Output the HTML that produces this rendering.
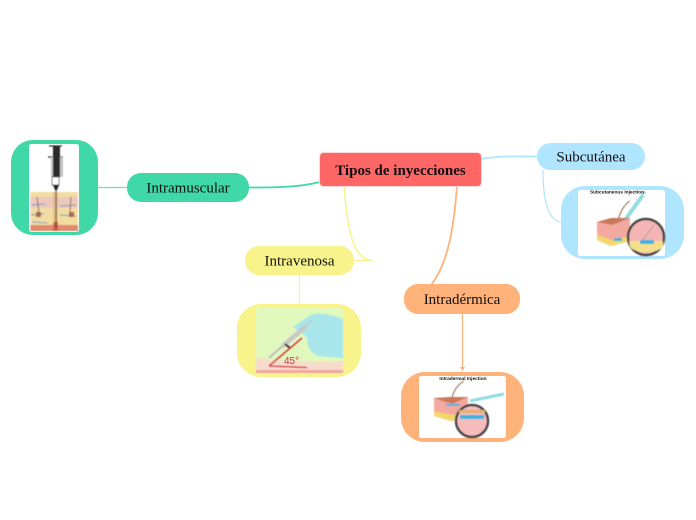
<!DOCTYPE html>
<html>
<head>
<meta charset="utf-8">
<style>
html,body{margin:0;padding:0;background:#fff;width:696px;height:520px;overflow:hidden}
svg{display:block}
text{font-family:"Liberation Serif",serif;fill:#111}
</style>
</head>
<body>
<svg width="696" height="520" viewBox="0 0 696 520" xmlns="http://www.w3.org/2000/svg">
<defs><filter id="b" x="-5%" y="-5%" width="110%" height="110%"><feGaussianBlur stdDeviation="0.4"/></filter></defs>
<!-- connectors -->
<g fill="none">
<path d="M98 187.500H127" stroke="#6fe0bb" stroke-width="1.200"/>
<path d="M249 187.500C280 187.500 300 187 320 182" stroke="#40d8a6" stroke-width="1.800"/>
<path d="M481 159C500 155.500 515 156.500 537 156.500" stroke="#b0e5ff" stroke-width="1.800"/>
<path d="M543 170C543 195 546 220 561 222" stroke="#b0e5ff" stroke-width="1.200"/>
<path d="M344 186C347 225 352 260 372 260.500M354 260.500H372" stroke="#f8f38a" stroke-width="1.500"/>
<path d="M299.500 275V304" stroke="#f8f38a" stroke-width="1.200"/>
<path d="M457 186C454 225 449 262 431 285" stroke="#ffb27a" stroke-width="1.800"/>
<path d="M462.500 314V370" stroke="#ffb27a" stroke-width="1.200"/>
<path d="M460 367L462.500 371L465 367Z" fill="#ffb27a"/>
</g>

<!-- central -->
<rect x="319.500" y="152.500" width="162" height="34" rx="4" fill="#ff6666" stroke="#ffd9d9" stroke-width="1"/>
<text x="400.500" y="175" font-size="15" font-weight="bold" text-anchor="middle">Tipos de inyecciones</text>

<!-- pills -->
<rect x="127" y="173" width="122" height="29" rx="14" fill="#40d8a6"/>
<text x="188" y="192.500" font-size="15" text-anchor="middle">Intramuscular</text>
<rect x="537" y="143" width="108" height="27" rx="13.500" fill="#b0e5ff"/>
<text x="591" y="161.500" font-size="15" text-anchor="middle">Subcutánea</text>
<rect x="245" y="246" width="109" height="29" rx="14" fill="#f8f38a"/>
<text x="309" y="265.500" font-size="15" text-anchor="middle" dx="-9.500">Intravenosa</text>
<rect x="404" y="284" width="116" height="30" rx="14" fill="#ffb27a"/>
<text x="462" y="304" font-size="15" text-anchor="middle">Intradérmica</text>

<!-- node backgrounds -->
<rect x="11" y="140" width="87" height="95" rx="22" fill="#40d8a6"/>
<rect x="561" y="186" width="123" height="73" rx="24" fill="#b0e5ff"/>
<rect x="237" y="304" width="124" height="73" rx="24" fill="#f8f38a"/>
<rect x="401" y="372" width="123" height="70" rx="24" fill="#ffb27a"/>

<!-- Intramuscular image -->
<rect x="29" y="144" width="50" height="88" rx="2.500" fill="#fff"/>
<g filter="url(#b)">
<rect x="30.500" y="192" width="47.500" height="39" fill="#f2dca0"/>
<rect x="30.500" y="197" width="47.500" height="11" fill="#ecc8bc"/>
<rect x="30.500" y="225" width="47.500" height="6" fill="#e08a70"/>
<path d="M31 205L45 204M60 206L76 205M31 215L44 214M60 215L76 216M32 222L48 223" stroke="#7a9cc0" stroke-width="1"/>
<path d="M37 197L39 213M71 197L70 212" stroke="#9a6a5a" stroke-width="1"/>
<rect x="36" y="212" width="5" height="5" fill="#a56a55"/>
<rect x="69" y="212" width="5" height="5" fill="#a56a55"/>
<rect x="53" y="192" width="5" height="39" fill="#d9a56a" opacity=".5"/>
<rect x="53" y="222" width="5" height="9" fill="#d04a40" opacity=".7"/>
<path d="M49 146H62M48 157H63" stroke="#333" stroke-width="1.300"/>
<rect x="51" y="157" width="12" height="20" fill="#c4c4c4"/>
<rect x="53" y="146" width="7" height="31" fill="#2a2a2a"/>
<rect x="52" y="177" width="7" height="8" fill="#fff" stroke="#555" stroke-width=".8"/>
<path d="M53 185H59L57 190H55Z" fill="#222"/>
<path d="M56 190V228" stroke="#333" stroke-width="1"/>
</g>

<!-- Subcutanea image -->
<rect x="578" y="190" width="87" height="66" rx="2.500" fill="#fff"/>
<g filter="url(#b)">
<path d="M618 221C620 211 625 204 630 201" stroke="#8a5a3c" stroke-width="1" fill="none"/>
<path d="M625 220L643 195" stroke="#8fdbe0" stroke-width="4"/>
<path d="M642 194L646 192" stroke="#7fc7cc" stroke-width="1.500"/>
<path d="M597 222L611 218H630V241L611 246L597 240Z" fill="#f3a9a0"/>
<path d="M597 222L611 218H630L612 225Z" fill="#c9795a"/>
<path d="M597 235L612 240L630 236V241L611 246L597 240Z" fill="#f2d769"/>
<rect x="614" y="238" width="8" height="3" fill="#3bb3e0"/>
<circle cx="646" cy="237" r="18" fill="#f5b5b5" stroke="#444" stroke-width="2.500"/>
<path d="M629 241H663V247C656 254 636 254 630 247Z" fill="#f4e08a"/>
<rect x="640" y="240" width="14" height="4" fill="#3bb3e0"/>
<path d="M642 241L654 225" stroke="#999" stroke-width=".8"/>
</g>
<text x="617" y="193.500" font-size="4.800" font-weight="bold" text-anchor="middle" style="font-family:'Liberation Sans',sans-serif">Subcutaneous Injection</text>

<!-- Intravenosa image -->
<rect x="256" y="308" width="87" height="65" rx="2.500" fill="#e0f8bc"/>
<g filter="url(#b)">
<path d="M256 358C285 361 315 363 343 361V373H256Z" fill="#f8dccb"/>
<path d="M256 370H343V373H256Z" fill="#f3a4a0"/>
<path d="M309 316C320 311 332 315 343 319V358L318 356C310 352 306 345 308 339L302 333L293 327Z" fill="#a8e6ec"/>
<path d="M269 358L296 334" stroke="#bdbdbd" stroke-width="2"/>
<path d="M283 346L306 326" stroke="#c8c8c8" stroke-width="4.500"/>
<path d="M304 328L312 320" stroke="#c8c8c8" stroke-width="1.500"/>
<path d="M285 344L290 348" stroke="#333" stroke-width="2"/>
<path d="M269 366L302 338M269 366L307 367.500" stroke="#d93a4a" stroke-width="1.500" fill="none"/>
</g>
<text x="284" y="364" font-size="10" style="fill:#c9364a;font-family:'Liberation Sans',sans-serif">45°</text>

<!-- Intradermica image -->
<rect x="419" y="376" width="87" height="62" rx="2.500" fill="#fff"/>
<g filter="url(#b)">
<path d="M452 398C454 389 459 384 464 381" stroke="#8a5a3c" stroke-width="1" fill="none"/>
<path d="M434 398L450 397H468V417L451 421L434 416Z" fill="#f3a9a0"/>
<path d="M434 398L450 397H468L452 404Z" fill="#c9795a"/>
<path d="M434 411L452 415L468 412V416L451 421L434 416Z" fill="#f2d769"/>
<rect x="446" y="404" width="14" height="2" fill="#3bb3e0"/>
<path d="M470 401L504 394" stroke="#8fdbe0" stroke-width="3"/>
<circle cx="472" cy="421" r="16" fill="#f6bcbc" stroke="#444" stroke-width="2.500"/>
<rect x="460" y="415" width="24" height="4" fill="#3bb3e0"/>
<rect x="459" y="410" width="26" height="3" fill="#e0b070"/>
</g>
<text x="463" y="380" font-size="4.800" font-weight="bold" text-anchor="middle" style="font-family:'Liberation Sans',sans-serif">Intradermal Injection</text>
</svg>
</body>
</html>
